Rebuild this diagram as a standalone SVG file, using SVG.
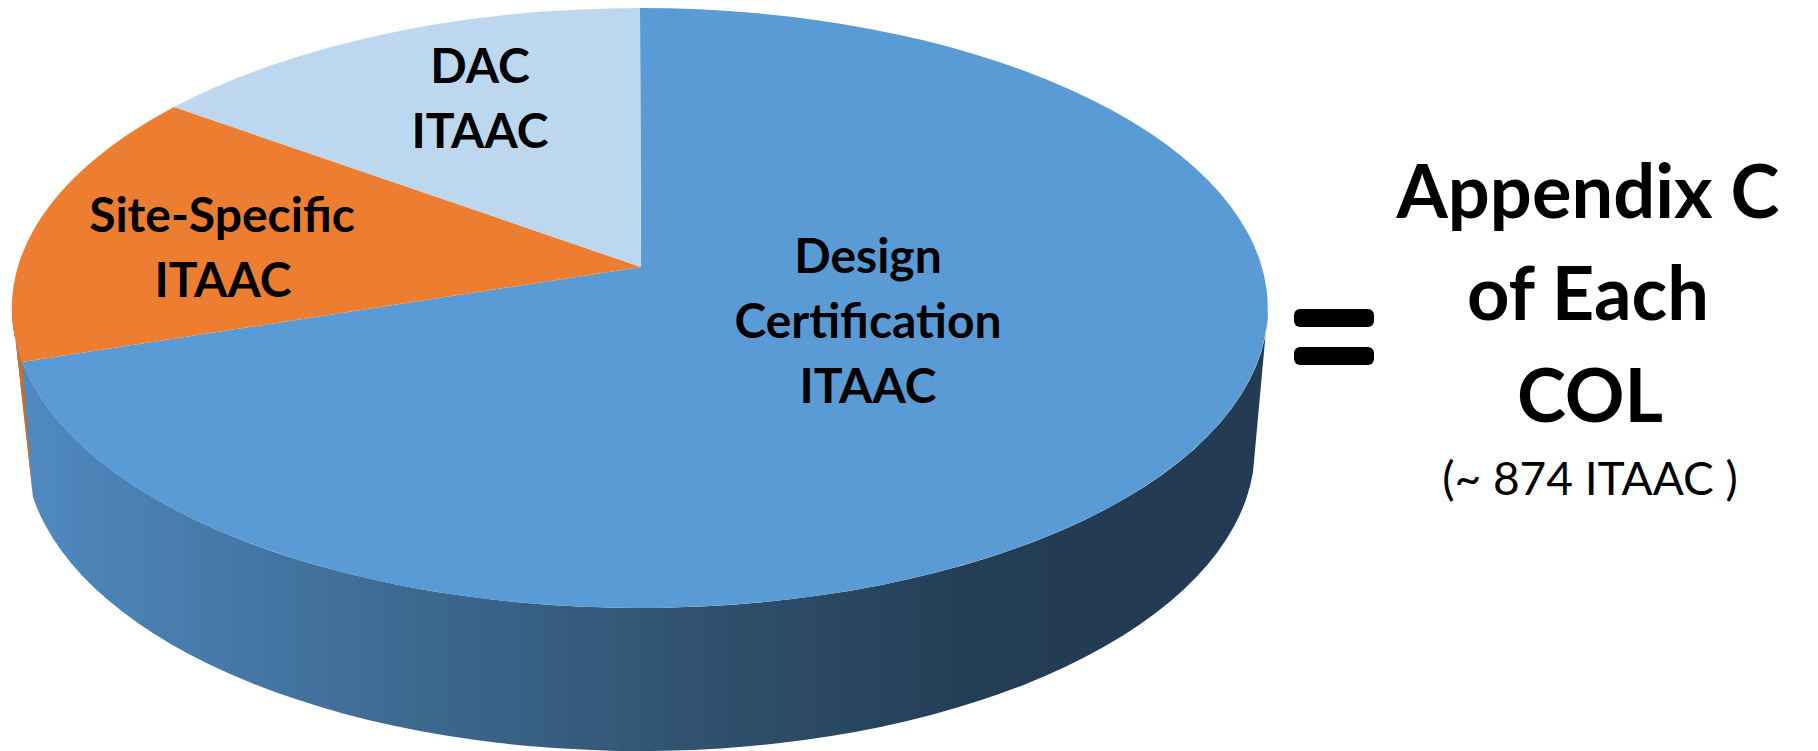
<svg xmlns="http://www.w3.org/2000/svg" width="1818" height="751" viewBox="0 0 1818 751">
  <defs>
    <linearGradient id="sideGrad" gradientUnits="userSpaceOnUse" x1="30" y1="0" x2="1100" y2="0">
      <stop offset="0" stop-color="#4f89bf"/>
      <stop offset="0.62" stop-color="#30526f"/>
      <stop offset="0.88" stop-color="#243e56"/>
      <stop offset="1" stop-color="#233c54"/>
    </linearGradient>
    <style>
      .lbl { font-family: "Lato", "Open Sans", "DejaVu Sans", sans-serif; font-weight: bold; fill: #000; text-anchor: middle; font-size: 48px; }
      .big { font-family: "Lato", "Open Sans", "DejaVu Sans", sans-serif; font-weight: bold; fill: #000; text-anchor: middle; font-size: 74px; }
      .sub { font-family: "Lato", "Open Sans", "DejaVu Sans", sans-serif; font-weight: normal; fill: #000; text-anchor: middle; font-size: 46px; }
      .bar { fill: #000; }
    </style>
  </defs>
  <rect width="1818" height="751" fill="#ffffff"/>

  <g id="pie-side">
    <path d="M 12 308 L 33 497 A 615 303 0 0 0 1253 472 L 1268 308 A 628 300 0 0 1 12 308 Z" fill="url(#sideGrad)"/>
    <path d="M 12 308 A 628 300 0 0 0 22 362 L 33 497 Z" fill="#cf6b27"/>
  </g>

  <g id="slice-design-certification">
    <path d="M 641 267 L 22 362 A 628 300 0 1 0 640 8 Z" fill="#5b9bd5"/>
    <text class="lbl" x="868" y="273">Design</text>
    <text class="lbl" x="868" y="338">Certification</text>
    <text class="lbl" x="868" y="403">ITAAC</text>
  </g>

  <g id="slice-site-specific">
    <path d="M 641 267 L 174 107 A 628 300 0 0 0 22 362 Z" fill="#ed7d31"/>
    <text class="lbl" x="222" y="232">Site-Specific</text>
    <text class="lbl" x="223" y="297">ITAAC</text>
  </g>

  <g id="slice-dac">
    <path d="M 641 267 L 640 8 A 628 300 0 0 0 174 107 Z" fill="#bdd7ee"/>
    <text class="lbl" x="480" y="83">DAC</text>
    <text class="lbl" x="480" y="148">ITAAC</text>
  </g>

  <g id="equals">
    <rect class="bar" x="1294" y="309" width="80" height="18" rx="6"/>
    <rect class="bar" x="1294" y="347" width="80" height="18" rx="6"/>
  </g>

  <g id="result">
    <text class="big" x="1588" y="218">Appendix C</text>
    <text class="big" x="1588" y="320">of Each</text>
    <text class="big" x="1590" y="422">COL</text>
    <text class="sub" x="1590" y="495">(~ 874 ITAAC )</text>
  </g>
</svg>
